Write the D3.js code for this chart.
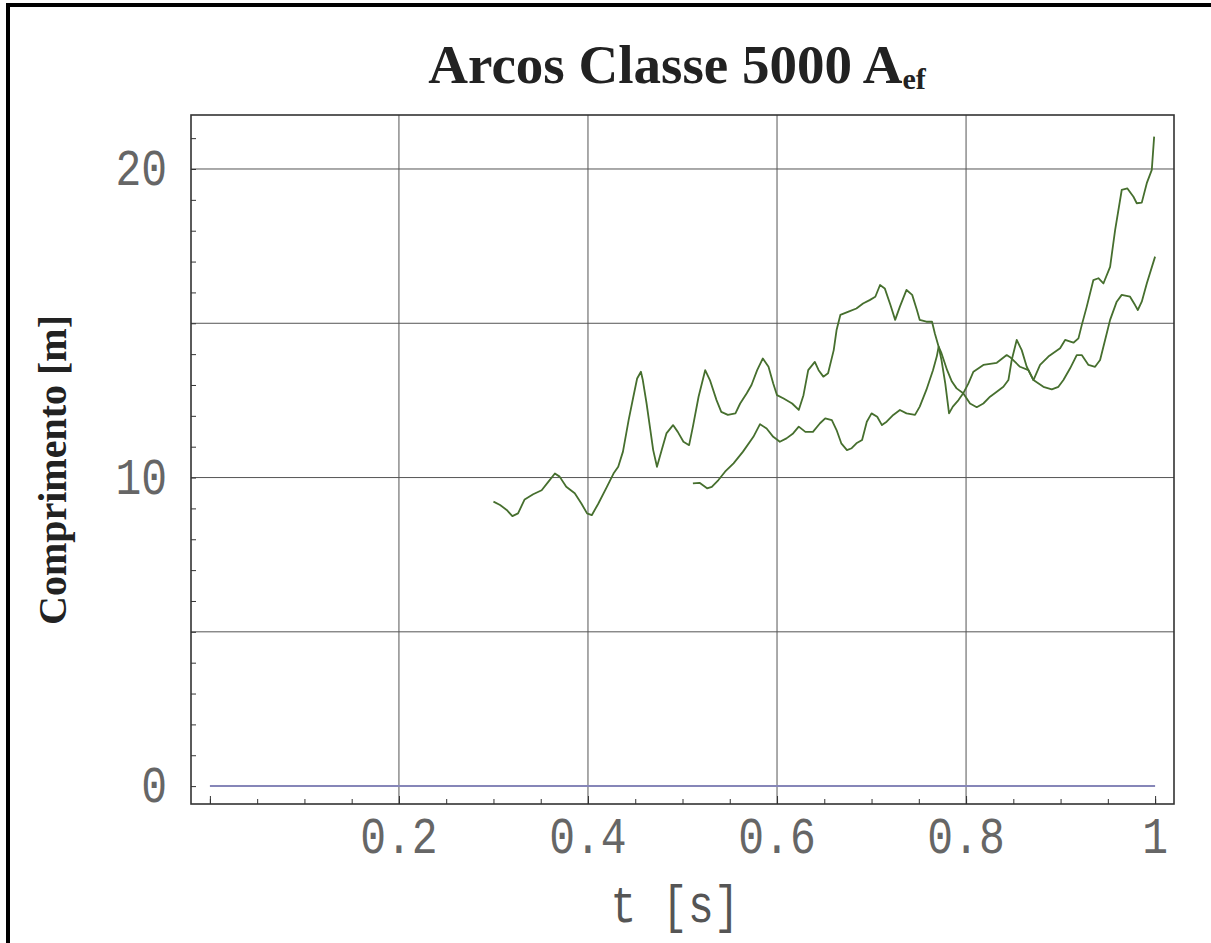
<!DOCTYPE html>
<html>
<head>
<meta charset="utf-8">
<script src="https://cdn.jsdelivr.net/npm/d3@7/dist/d3.min.js"></script>
<style>
  body { margin: 0; background: #fff; }
  svg { display: block; }
</style>
</head>
<body>
<div id="chart"></div>
<script>
// arc length traces [t (s), length (m)]
const arcA = [
  [0.300, 9.22], [0.307, 9.11], [0.314, 8.95], [0.320, 8.75], [0.326, 8.84], [0.333, 9.29],
  [0.342, 9.46], [0.351, 9.59], [0.358, 9.86], [0.365, 10.13], [0.370, 10.03], [0.377, 9.70],
  [0.386, 9.49], [0.393, 9.16], [0.399, 8.84], [0.404, 8.78], [0.411, 9.16], [0.420, 9.70],
  [0.427, 10.13], [0.432, 10.35], [0.437, 10.84], [0.443, 11.86], [0.448, 12.62], [0.452, 13.21],
  [0.456, 13.43], [0.458, 13.16], [0.462, 12.40], [0.466, 11.54], [0.469, 10.89], [0.473, 10.35],
  [0.478, 10.89], [0.483, 11.43], [0.490, 11.70], [0.495, 11.48], [0.501, 11.16], [0.507, 11.05],
  [0.511, 11.65], [0.517, 12.62], [0.524, 13.48], [0.529, 13.16], [0.536, 12.51], [0.541, 12.13],
  [0.548, 12.03], [0.556, 12.08], [0.561, 12.40], [0.568, 12.73], [0.573, 13.00], [0.579, 13.48],
  [0.585, 13.86], [0.591, 13.59], [0.596, 13.05], [0.600, 12.67], [0.607, 12.56], [0.616, 12.40],
  [0.623, 12.19], [0.628, 12.67], [0.633, 13.48], [0.640, 13.75], [0.644, 13.48], [0.649, 13.27],
  [0.654, 13.38], [0.660, 14.13], [0.663, 14.78], [0.667, 15.27], [0.675, 15.37], [0.684, 15.48],
  [0.691, 15.64], [0.698, 15.75], [0.704, 15.86], [0.709, 16.24], [0.714, 16.13], [0.720, 15.59],
  [0.725, 15.11], [0.730, 15.54], [0.737, 16.08], [0.743, 15.92], [0.748, 15.43], [0.751, 15.11],
  [0.758, 15.05], [0.764, 15.05], [0.767, 14.67], [0.771, 14.24], [0.774, 13.81], [0.778, 13.05],
  [0.782, 12.08], [0.786, 12.30], [0.792, 12.51], [0.797, 12.73], [0.8025, 13.05], [0.8078, 13.43],
  [0.8183, 13.65], [0.8325, 13.72], [0.8430, 13.97], [0.8466, 13.90], [0.8571, 13.59], [0.8660, 13.48],
  [0.8713, 13.16], [0.8783, 13.65], [0.8871, 13.92], [0.8995, 14.19], [0.9048, 14.46], [0.9136, 14.37],
  [0.9189, 14.51], [0.9224, 14.94], [0.9277, 15.54], [0.9347, 16.40], [0.9400, 16.46], [0.9453, 16.29],
  [0.9524, 16.83], [0.9577, 18.02], [0.9647, 19.32], [0.9707, 19.37], [0.9771, 19.10], [0.9806, 18.89],
  [0.9859, 18.91], [0.9912, 19.54], [0.9965, 19.97], [0.999, 21.05]
]
const arcB = [
  [0.511, 9.81], [0.518, 9.83], [0.526, 9.65], [0.531, 9.70], [0.538, 9.92], [0.545, 10.19],
  [0.554, 10.46], [0.564, 10.84], [0.575, 11.32], [0.582, 11.73], [0.589, 11.59], [0.596, 11.32],
  [0.603, 11.16], [0.610, 11.27], [0.617, 11.43], [0.623, 11.65], [0.630, 11.48], [0.638, 11.48],
  [0.6455, 11.76], [0.651, 11.92], [0.658, 11.86], [0.663, 11.54], [0.668, 11.11], [0.674, 10.89],
  [0.679, 10.95], [0.684, 11.11], [0.690, 11.22], [0.695, 11.81], [0.700, 12.08], [0.706, 11.97],
  [0.711, 11.70], [0.716, 11.81], [0.723, 12.03], [0.730, 12.19], [0.737, 12.08], [0.746, 12.03],
  [0.751, 12.30], [0.758, 12.84], [0.765, 13.48], [0.769, 13.92], [0.771, 14.24], [0.774, 14.03],
  [0.780, 13.48], [0.785, 13.11], [0.790, 12.89], [0.797, 12.73], [0.8042, 12.40], [0.8113, 12.28],
  [0.8183, 12.40], [0.8254, 12.62], [0.8325, 12.78], [0.8395, 12.94], [0.8448, 13.16], [0.8483, 13.81],
  [0.8536, 14.46], [0.8589, 14.13], [0.8642, 13.59], [0.8713, 13.16], [0.8818, 12.94], [0.8907, 12.86],
  [0.8977, 12.94], [0.9030, 13.16], [0.9101, 13.54], [0.9171, 13.97], [0.9224, 13.97], [0.9295, 13.65],
  [0.9365, 13.59], [0.9418, 13.81], [0.9471, 14.46], [0.9524, 15.11], [0.9594, 15.70], [0.9647, 15.92],
  [0.9735, 15.86], [0.9788, 15.59], [0.9817, 15.43], [0.9859, 15.70], [0.9912, 16.29], [1.0, 17.16]
]
const zeroLine = [[0, 0], [1, 0]]

const xTickLabels = [0.2, 0.4, 0.6, 0.8, 1]
const yTickLabels = [0, 10, 20]
const xGrid = [0.2, 0.4, 0.6, 0.8]
const yGrid = [5, 10, 15, 20]

const width = 1211
const height = 943
const frame = { left: 191, right: 1174, top: 115, bottom: 804 }

const svg = d3.select('#chart').append('svg')
  .attr('width', width)
  .attr('height', height)

// outer black border (left and top edges visible in the picture)
svg.append('rect').attr('x', 6).attr('y', 3).attr('width', 4).attr('height', height).attr('fill', '#000')
svg.append('rect').attr('x', 6).attr('y', 3).attr('width', width).attr('height', 4).attr('fill', '#000')

const x = d3.scaleLinear().domain([-0.02, 1.02]).range([frame.left, frame.right])
const y = d3.scaleLinear().domain([-0.58, 21.75]).range([frame.bottom, frame.top])

// grid
svg.append('g').selectAll('line')
  .data(xGrid)
  .enter().append('line')
  .attr('x1', d => x(d)).attr('x2', d => x(d))
  .attr('y1', frame.top).attr('y2', frame.bottom)
  .attr('stroke', '#555').attr('stroke-width', 1)
svg.append('g').selectAll('line')
  .data(yGrid)
  .enter().append('line')
  .attr('x1', frame.left).attr('x2', frame.right)
  .attr('y1', d => y(d)).attr('y2', d => y(d))
  .attr('stroke', '#555').attr('stroke-width', 1)

// ticks pointing into the frame
const minorX = d3.range(0, 1.0001, 0.05)
const majorX = d3.range(0, 1.0001, 0.2)
svg.append('g')
  .attr('transform', `translate(0,${frame.bottom})`)
  .call(d3.axisBottom(x).tickValues(minorX).tickSize(-5).tickFormat(''))
  .call(g => g.select('.domain').remove())
svg.append('g')
  .attr('transform', `translate(0,${frame.bottom})`)
  .call(d3.axisBottom(x).tickValues(majorX).tickSize(-8).tickFormat(''))
  .call(g => g.select('.domain').remove())
svg.append('g')
  .attr('transform', `translate(${frame.left},0)`)
  .call(d3.axisLeft(y).tickValues(d3.range(0, 22, 1)).tickSize(-5).tickFormat(''))
  .call(g => g.select('.domain').remove())
svg.selectAll('.tick line').attr('stroke', '#333')

// frame
svg.append('rect')
  .attr('x', frame.left).attr('y', frame.top)
  .attr('width', frame.right - frame.left).attr('height', frame.bottom - frame.top)
  .attr('fill', 'none').attr('stroke', '#333').attr('stroke-width', 1.6)

// tick labels
svg.append('g').selectAll('text')
  .data(xTickLabels)
  .enter().append('text')
  .attr('transform', d => `translate(${x(d)},853) scale(1,1.2)`)
  .attr('text-anchor', 'middle')
  .attr('font-family', '"Liberation Mono", "Courier New", monospace')
  .attr('font-size', 43)
  .attr('fill', '#666')
  .text(d => d === 1 ? '1' : d3.format('.1f')(d))
svg.append('g').selectAll('text')
  .data(yTickLabels)
  .enter().append('text')
  .attr('transform', d => `translate(167,${y(d) + 16}) scale(1,1.2)`)
  .attr('text-anchor', 'end')
  .attr('font-family', '"Liberation Mono", "Courier New", monospace')
  .attr('font-size', 43)
  .attr('fill', '#666')
  .text(d => d)

// lines
const line = d3.line().x(d => x(d[0])).y(d => y(d[1]))
svg.append('path')
  .datum(zeroLine)
  .attr('d', line)
  .attr('fill', 'none').attr('stroke', '#8686b8').attr('stroke-width', 2)
svg.append('g').selectAll('path')
  .data([arcA, arcB])
  .enter().append('path')
  .attr('d', line)
  .attr('fill', 'none')
  .attr('stroke', '#466f2e')
  .attr('stroke-width', 1.8)
  .attr('stroke-linejoin', 'round')

// axis titles
svg.append('text')
  .attr('transform', 'translate(675,922) scale(1,1.2)')
  .attr('text-anchor', 'middle')
  .attr('font-family', '"Liberation Mono", "Courier New", monospace')
  .attr('font-size', 43)
  .attr('fill', '#555')
  .text('t [s]')

svg.append('text')
  .attr('transform', 'translate(66,470) rotate(-90)')
  .attr('text-anchor', 'middle')
  .attr('font-family', '"Liberation Serif", "Times New Roman", serif')
  .attr('font-weight', 'bold')
  .attr('font-size', 40)
  .attr('fill', '#222')
  .text('Comprimento [m]')

// title with subscript
const title = svg.append('text')
  .attr('x', 677).attr('y', 83)
  .attr('text-anchor', 'middle')
  .attr('font-family', '"Liberation Serif", "Times New Roman", serif')
  .attr('font-weight', 'bold')
  .attr('font-size', 55)
  .attr('fill', '#222')
title.append('tspan').text('Arcos Classe 5000 A')
title.append('tspan').attr('font-size', 30).attr('dy', 6).text('ef')
</script>
</body>
</html>
